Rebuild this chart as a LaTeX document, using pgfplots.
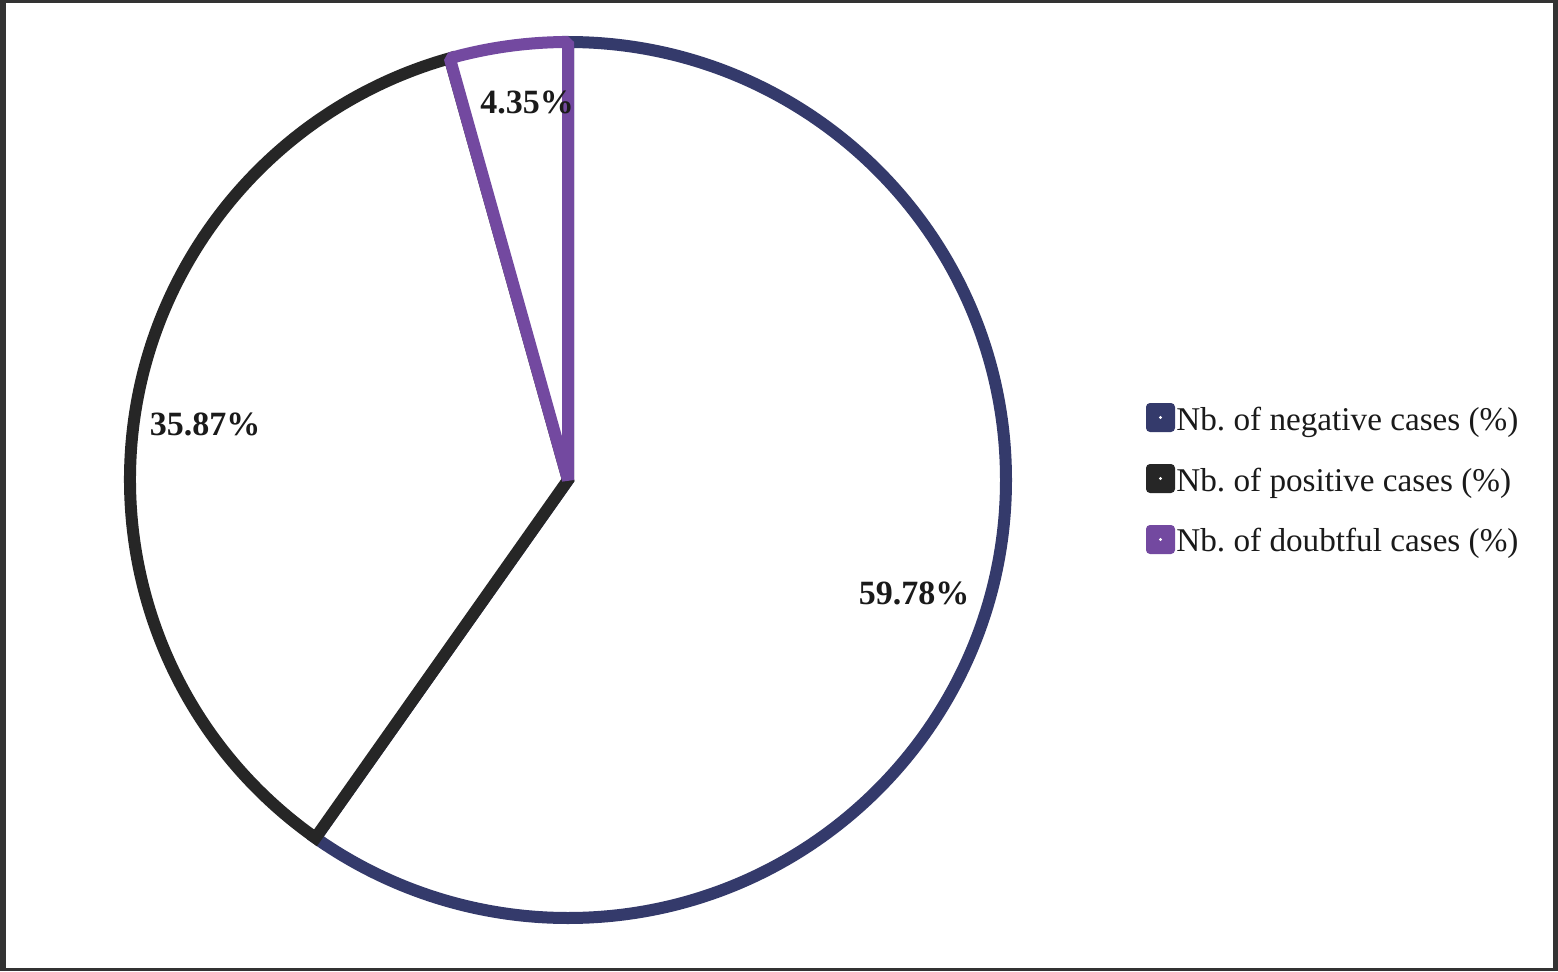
\documentclass[border=0pt]{standalone}
\usepackage{pgfplots}
\pgfplotsset{compat=1.18}
\usepackage{pgfplotstable}
\usepackage{fontspec}
\setmainfont{Liberation Serif}
\definecolor{negc}{HTML}{343A6B}
\definecolor{posc}{HTML}{262626}
\definecolor{doubc}{HTML}{7349A0}
\definecolor{framec}{HTML}{333333}
\definecolor{txtc}{HTML}{1A1A1A}
\pgfplotstableread{
label value
neg 59.78
pos 35.87
doub 4.35
}\piedata
\begin{document}
\frenchspacing
\begin{tikzpicture}
\pgfplotstablegetelem{0}{value}\of\piedata \let\va\pgfplotsretval
\pgfplotstablegetelem{1}{value}\of\piedata \let\vb\pgfplotsretval
\pgfplotstablegetelem{2}{value}\of\piedata \let\vc\pgfplotsretval
\pgfmathsetmacro{\aA}{90}
\pgfmathsetmacro{\aB}{90-3.6*\va}
\pgfmathsetmacro{\aC}{\aB-3.6*\vb}
\pgfmathsetmacro{\aD}{\aC-3.6*\vc}
\begin{axis}[x=0.5pt,y=0.5pt,xmin=0,xmax=1558,ymin=0,ymax=971,
  hide axis,clip=false,scale only axis]
\fill[framec] (axis cs:0,0) rectangle (axis cs:1558,971);
\fill[white] (axis cs:6,3) rectangle (axis cs:1553,968);
\draw[negc, line width=6pt, fill=white] (axis cs:568,491) -- ++(\aA:219pt) arc[start angle=\aA, end angle=\aB, radius=219pt] -- cycle;
\draw[posc, line width=6pt, fill=white] (axis cs:568,491) -- ++(\aB:219pt) arc[start angle=\aB, end angle=\aC, radius=219pt] -- cycle;
\draw[doubc, line width=6pt, fill=white, line join=bevel] (axis cs:568,491) -- ++(\aC:219pt) arc[start angle=\aC, end angle=\aD, radius=219pt] -- cycle;
\node[txtc,font=\fontsize{17}{20}\selectfont\bfseries] at (axis cs:914,378) {59.78\%};
\node[txtc,font=\fontsize{17}{20}\selectfont\bfseries] at (axis cs:205,547) {35.87\%};
\node[txtc,font=\fontsize{17}{20}\selectfont\bfseries] at (axis cs:527,869) {4.35\%};
% legend
\fill[negc, rounded corners=2pt] (axis cs:1146,539) rectangle (axis cs:1175,568);
\fill[posc, rounded corners=2pt] (axis cs:1146,478) rectangle (axis cs:1175,507);
\fill[doubc, rounded corners=2pt] (axis cs:1146,417) rectangle (axis cs:1175,446);
\fill[white] (axis cs:1160.5,553.5) circle[radius=0.8pt];
\fill[white] (axis cs:1160.5,492.5) circle[radius=0.8pt];
\fill[white] (axis cs:1160.5,431.5) circle[radius=0.8pt];
\node[txtc,anchor=base west,inner sep=0pt,font=\fontsize{16.6}{19}\selectfont] at (axis cs:1176,541) {Nb. of negative cases (\%)};
\node[txtc,anchor=base west,inner sep=0pt,font=\fontsize{16.6}{19}\selectfont] at (axis cs:1176,480) {Nb. of positive cases (\%)};
\node[txtc,anchor=base west,inner sep=0pt,font=\fontsize{16.6}{19}\selectfont] at (axis cs:1176,420) {Nb. of doubtful cases (\%)};
\end{axis}
\end{tikzpicture}
\end{document}
